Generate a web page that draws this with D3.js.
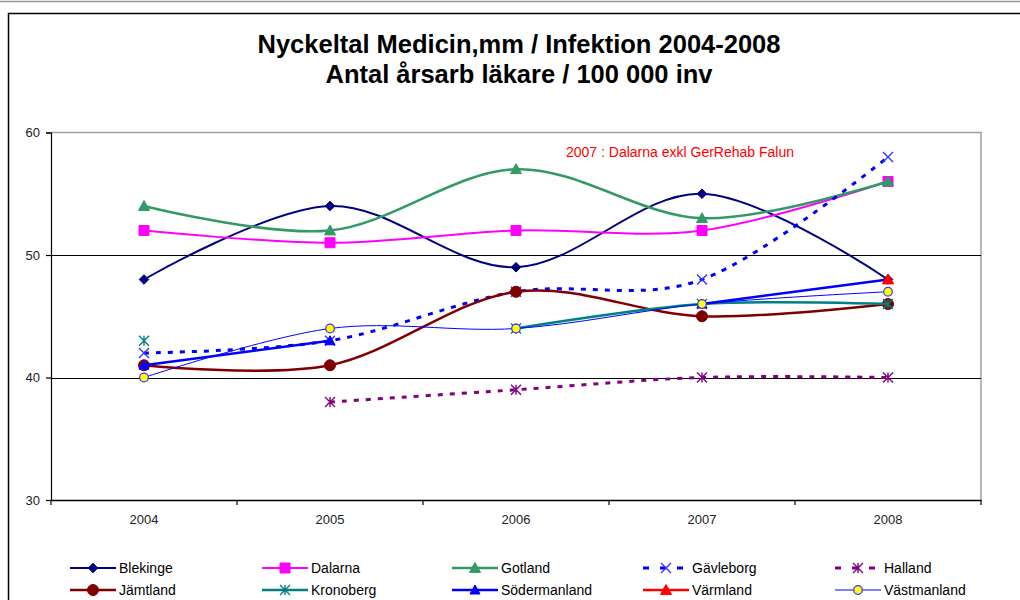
<!DOCTYPE html>
<html>
<head>
<meta charset="utf-8">
<script src="https://cdn.jsdelivr.net/npm/d3@7"></script>
<style>
  html, body { margin: 0; padding: 0; background: #fff; }
  svg { display: block; font-family: "Liberation Sans", Arial, sans-serif; }
</style>
</head>
<body>
<svg id="chart" width="1020" height="600"></svg>
<script>
// ---------------- data ----------------
const titleLines = ["Nyckeltal Medicin,mm / Infektion 2004-2008", "Antal årsarb läkare / 100 000 inv"];
const annotation = "2007 : Dalarna exkl GerRehab Falun";
const years = ["2004", "2005", "2006", "2007", "2008"];
const yTicks = [30, 40, 50, 60];
const gridValues = [40, 50];
const seriesNames = ["Blekinge", "Dalarna", "Gotland", "Gävleborg", "Halland",
                     "Jämtland", "Kronoberg", "Södermanland", "Värmland", "Västmanland"];
const blekinge     = [48, 54, 49, 55, 48];
const dalarna      = [52, 51, 52, 52, 56];
const gotland      = [54, 52, 57, 53, 56];
const gavleborg    = [42, 43, 47, 48, 58];
const halland      = [null, 38, 39, 40, 40];
const jamtland     = [41, 41, 47, 45, 46];
const kronoberg    = [43, null, 44, 46, 46];
const sodermanland = [41, 43, null, 46, 48];
const varmland     = [null, null, null, null, 48];
const vastmanland  = [40, 44, 44, 46, 47];
const seriesValues = [blekinge, dalarna, gotland, gavleborg, halland,
                      jamtland, kronoberg, sodermanland, varmland, vastmanland];

// ---------------- styles ----------------
const styles = [
  {color: "#000080", width: 2,   dash: null,  marker: "diamond",  size: 4.8, fill: "#000080"},
  {color: "#FF00FF", width: 2,   dash: null,  marker: "square",   size: 5,   fill: "#FF00FF"},
  {color: "#339966", width: 2.5, dash: null,  marker: "triangle", size: 5.5, fill: "#339966"},
  {color: "#0000FF", width: 3,   dash: "5,7", marker: "x",        size: 5,   fill: "none", mstroke: "#3333ff", mwidth: 1.4},
  {color: "#800080", width: 3,   dash: "5,7", marker: "asterisk", size: 5,   fill: "none", mstroke: "#800080", mwidth: 1.4},
  {color: "#800000", width: 2.5, dash: null,  marker: "circle",   size: 5.5, fill: "#800000"},
  {color: "#008080", width: 2.5, dash: null,  marker: "asterisk", size: 5,   fill: "none", mstroke: "#008080", mwidth: 1.4},
  {color: "#0000FF", width: 2.5, dash: null,  marker: "triangle", size: 5,   fill: "#0000FF"},
  {color: "#FF0000", width: 2.5, dash: null,  marker: "triangle", size: 5.5, fill: "#FF0000"},
  {color: "#0000FF", width: 1,   dash: null,  marker: "circle",   size: 4.3, fill: "#FFFF00", mstroke: "#3333ff", mwidth: 1.2}
];
const series = seriesNames.map((n, i) => ({name: n, values: seriesValues[i], style: styles[i]}));

// ---------------- layout ----------------
const svg = d3.select("#chart");
const plot = {left: 51, right: 981, top: 132.5, bottom: 500};

// page / chart frame
svg.append("line").attr("x1", 0).attr("x2", 1020).attr("y1", 1.5).attr("y2", 1.5)
   .attr("stroke", "#999").attr("stroke-width", 1.5);
svg.append("path").attr("d", "M8.5,600 L8.5,13.5 L1020,13.5")
   .attr("fill", "none").attr("stroke", "#000").attr("stroke-width", 1.5);

// title
svg.selectAll("text.title").data(titleLines).join("text")
  .attr("class", "title")
  .attr("x", 519).attr("y", (d, i) => 53 + i * 30)
  .attr("text-anchor", "middle")
  .attr("font-size", "25.5px").attr("font-weight", "bold").attr("fill", "#000")
  .text(d => d);

const x = d3.scaleBand().domain(years).range([plot.left, plot.right]);
const y = d3.scaleLinear().domain([30, 60]).range([plot.bottom, plot.top]);

// plot border (top and right, grey)
svg.append("path")
  .attr("d", `M${plot.left},${y(60)} L${plot.right},${y(60)} L${plot.right},${y(30)}`)
  .attr("fill", "none").attr("stroke", "#a0a0a0").attr("stroke-width", 1.5);

// gridlines
svg.selectAll("line.grid").data(gridValues).join("line")
  .attr("class", "grid")
  .attr("x1", plot.left).attr("x2", plot.right)
  .attr("y1", d => Math.round(y(d)) + 0.5).attr("y2", d => Math.round(y(d)) + 0.5)
  .attr("stroke", "#000").attr("stroke-width", 1.2);

// y axis
const yAxis = svg.append("g").attr("transform", `translate(${plot.left},0)`)
  .call(d3.axisLeft(y).tickValues(yTicks).tickSize(5).tickPadding(6).tickFormat(d3.format("d")));
yAxis.selectAll("path,line").attr("stroke", "#000").attr("stroke-width", 1.2);
yAxis.selectAll("text").attr("font-size", "13px").attr("fill", "#222")
  .attr("font-family", "'Liberation Sans', Arial, sans-serif");

// x axis
const xAxis = svg.append("g").attr("transform", `translate(0,${plot.bottom})`)
  .call(d3.axisBottom(x).tickSize(0).tickPadding(15).tickSizeOuter(0));
xAxis.select("path").attr("stroke", "#000").attr("stroke-width", 1.5);
xAxis.selectAll("text").attr("font-size", "13px").attr("fill", "#222")
  .attr("font-family", "'Liberation Sans', Arial, sans-serif");
const boundaries = years.map(d => x(d)).concat([x(years[years.length - 1]) + x.bandwidth()]);
svg.selectAll("line.xtick").data(boundaries).join("line")
  .attr("class", "xtick")
  .attr("x1", d => d).attr("x2", d => d)
  .attr("y1", plot.bottom).attr("y2", plot.bottom + 5)
  .attr("stroke", "#000").attr("stroke-width", 1.2);

// annotation
svg.append("text").attr("x", 680).attr("y", 157).attr("text-anchor", "middle")
  .attr("font-size", "14px").attr("fill", "#FF0000").text(annotation);

// marker shapes
function markerPath(type, r) {
  switch (type) {
    case "diamond": return `M0,${-r}L${r},0L0,${r}L${-r},0Z`;
    case "square": return `M${-r},${-r}H${r}V${r}H${-r}Z`;
    case "triangle": return `M0,${-r}L${r},${r * 0.8}L${-r},${r * 0.8}Z`;
    case "circle": return d3.symbol(d3.symbolCircle, Math.PI * r * r)();
    case "x": return `M${-r},${-r}L${r},${r}M${-r},${r}L${r},${-r}`;
    case "asterisk": return `M${-r},${-r}L${r},${r}M${-r},${r}L${r},${-r}M0,${-r}L0,${r}`;
  }
}
function drawMarker(g, s, cx, cy) {
  g.append("path")
    .attr("transform", `translate(${cx},${cy})`)
    .attr("d", markerPath(s.marker, s.size))
    .attr("fill", s.fill)
    .attr("stroke", s.mstroke || s.color)
    .attr("stroke-width", s.mwidth || 1);
}

// series
const line = d3.line()
  .defined(d => d.v !== null)
  .x(d => x(d.year) + x.bandwidth() / 2)
  .y(d => y(d.v))
  .curve(d3.curveCardinal.tension(0));

series.forEach(s => {
  const g = svg.append("g");
  const pts = years.map((yr, i) => ({year: yr, v: s.values[i]}));
  g.append("path").datum(pts)
    .attr("d", line)
    .attr("fill", "none")
    .attr("stroke", s.style.color)
    .attr("stroke-width", s.style.width)
    .attr("stroke-dasharray", s.style.dash);
  pts.filter(p => p.v !== null).forEach(p => {
    drawMarker(g, s.style, x(p.year) + x.bandwidth() / 2, y(p.v));
  });
});

// legend
const legendCols = [70, 262, 452, 643, 835];
const legendRows = [568, 590];
series.forEach((s, i) => {
  const col = i % 5, row = Math.floor(i / 5);
  const x0 = legendCols[col], cy = legendRows[row];
  const g = svg.append("g");
  const dash = s.style.dash ? "6,11" : null;
  g.append("line").attr("x1", x0).attr("x2", x0 + 46).attr("y1", cy).attr("y2", cy)
    .attr("stroke", s.style.color).attr("stroke-width", s.style.width)
    .attr("stroke-dasharray", dash);
  drawMarker(g, s.style, x0 + 23, cy);
  g.append("text").attr("x", x0 + 49).attr("y", cy + 5)
    .attr("font-size", "14px").attr("fill", "#000").text(s.name);
});
</script>
</body>
</html>
